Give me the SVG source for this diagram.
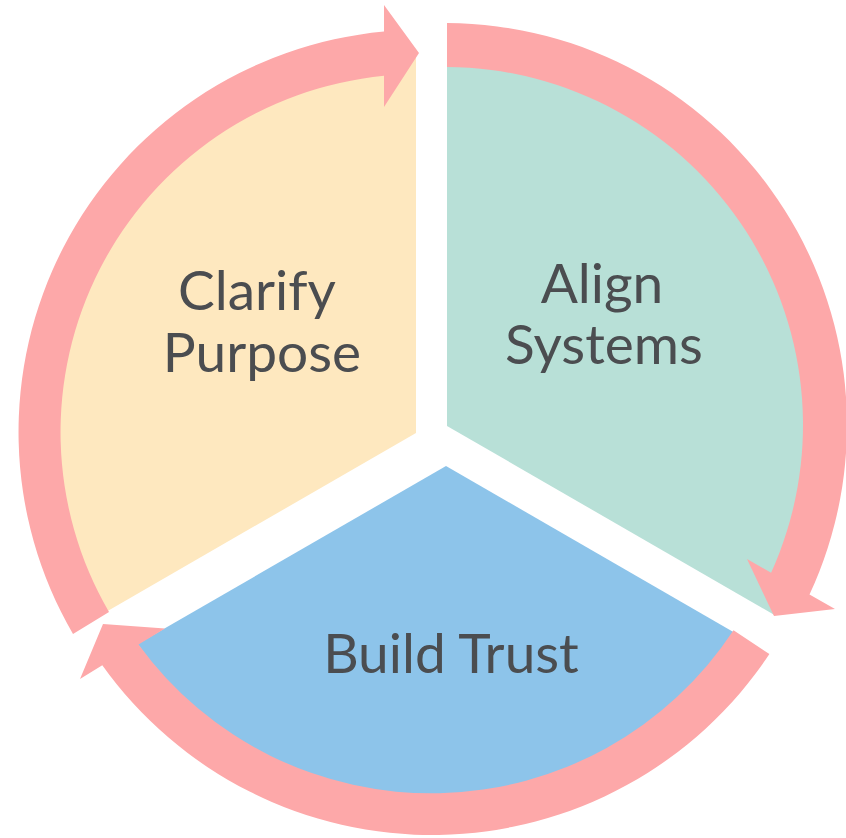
<svg xmlns="http://www.w3.org/2000/svg" width="846" height="838" viewBox="0 0 846 838">
<style>
.arrow{fill:#FDA8A9;}
.lbl{font-family:Lato,"Open Sans","Liberation Sans",sans-serif;font-size:55px;font-weight:400;fill:#4B4D50;text-anchor:middle;}
</style>
<rect width="846" height="838" fill="#FFFFFF"/>
<g id="node-clarify">
<path d="M416,433 L416,53 A380,380 0 0 0 86.9,623 Z" fill="#FEE8BF"/>
<text class="lbl" x="257" y="310">Clarify</text>
<text class="lbl" x="262" y="372">Purpose</text>
</g>
<g id="node-align">
<path d="M447,426 L447,48 A378,378 0 0 1 774.4,615 Z" fill="#B8E0D7"/>
<text class="lbl" x="602" y="303">Align</text>
<text class="lbl" x="604" y="364">Systems</text>
</g>
<g id="node-trust">
<path d="M446,466 L137.6,644 A366,366 0 0 0 742.9,637.4 Z" fill="#8DC4EA"/>
<text class="lbl" x="451" y="673">Build Trust</text>
</g>
<g id="connectors">
<path class="arrow" d="M73,634 A402,402 0 0 1 384,31.6 L384,5 L419,53 L384,107 L384,75.8 A358,358 0 0 0 109,612 Z"/>
<path class="arrow" d="M447,23 A402,402 0 0 1 809.5,594.5 L835,609 L774,616 L747,559 L771.1,572.7 A358,358 0 0 0 447,67 Z"/>
<path class="arrow" d="M769.4,654.1 A405,405 0 0 1 102.3,665.2 L80,679 L103,624 L165,628.5 L138.5,644.5 A362,362 0 0 0 733.5,630.3 Z"/>
</g>
</svg>
